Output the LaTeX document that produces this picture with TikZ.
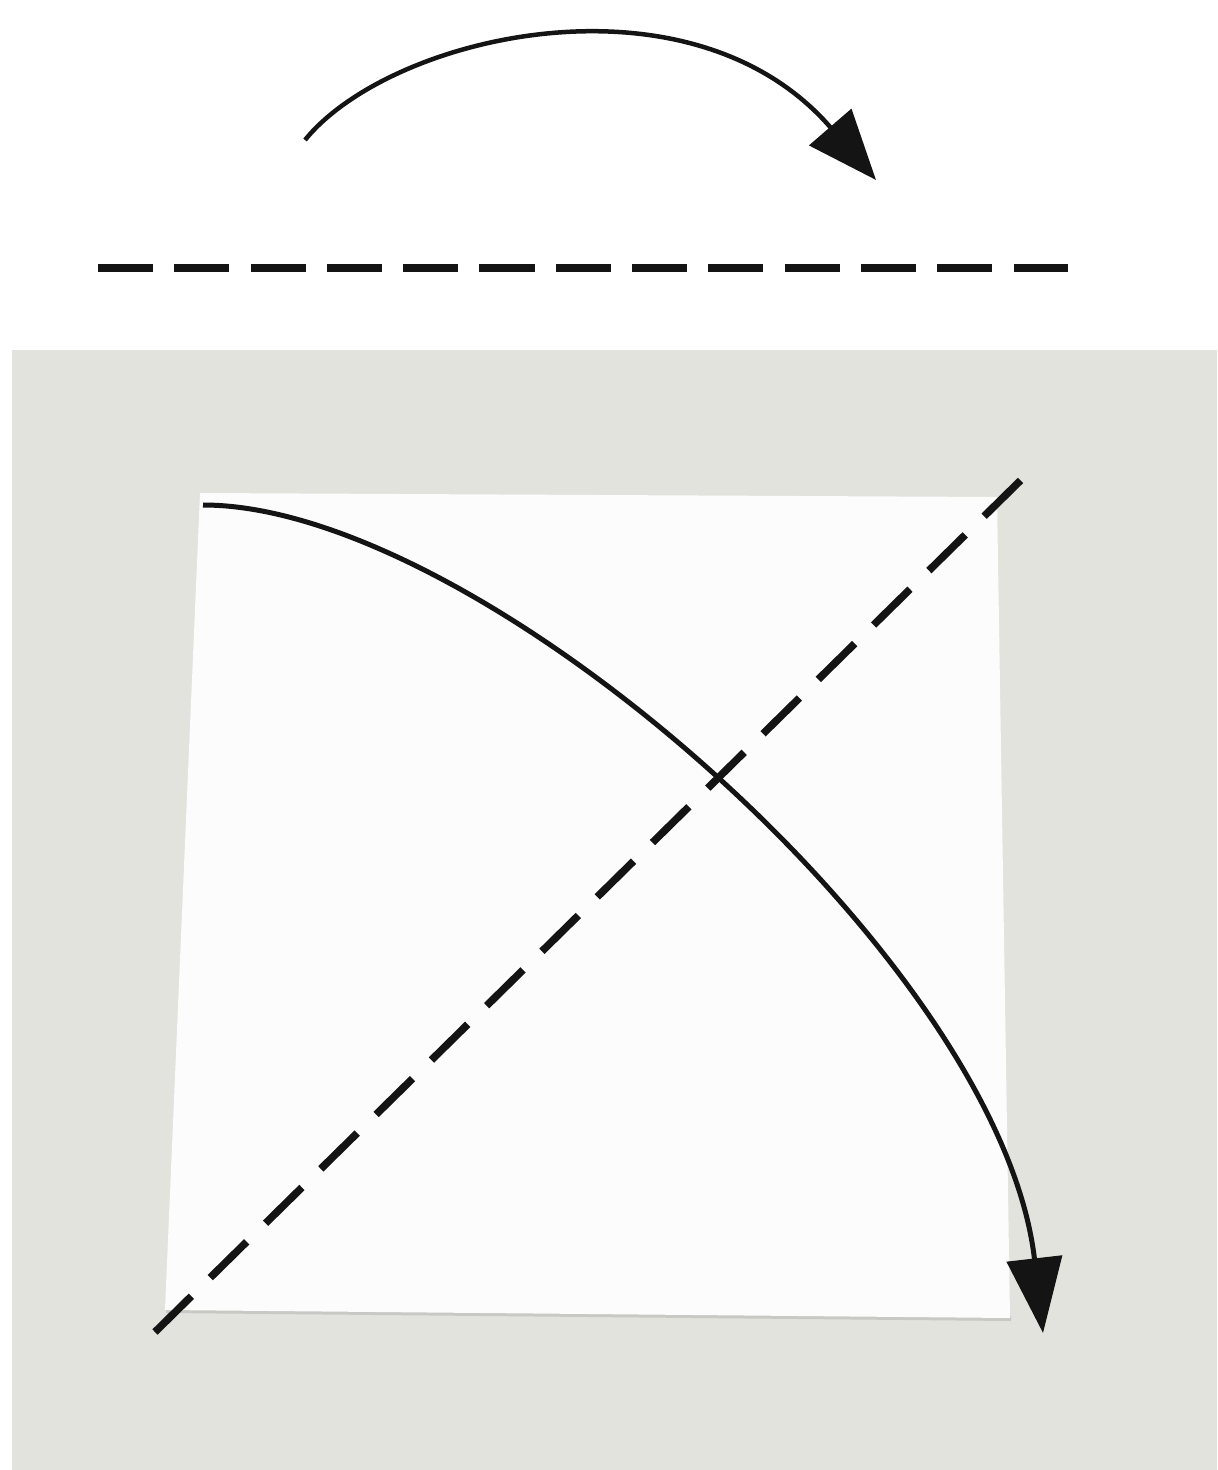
\documentclass[tikz,border=0pt]{standalone}
\usetikzlibrary{arrows.meta}
\definecolor{tablegray}{RGB}{226,227,221}
\definecolor{paperwhite}{RGB}{252,252,252}
\definecolor{edgegray}{RGB}{200,200,196}
\definecolor{inkblack}{RGB}{20,20,20}
\tikzset{
  foldline/.style={draw=inkblack, line width=0.75mm},
  arrowline/.style={draw=inkblack, line width=0.5mm},
}
\begin{document}
\begin{tikzpicture}[x=0.01cm,y=-0.01cm]
\useasboundingbox (0,0) rectangle (1217,1470);
\fill[white] (0,0) rectangle (1217,1470);
% table background
\fill[tablegray] (12,350) rectangle (1217,1470);
% paper square with slight shadow
\fill[edgegray] (166,1313) -- (1011,1321) -- (1011,1316) -- (166,1308) -- cycle;
\fill[paperwhite] (200,493) -- (997,497) -- (1010,1318) -- (165,1310) -- cycle;
% named points
\coordinate (hl) at (98,268);
\coordinate (hr) at (1068,268);
\coordinate (ts) at (305,140);
\coordinate (tt) at (876,180);
\coordinate (dl) at (155,1332);
\coordinate (dr) at (1023,478);
\coordinate (cs) at (203,505);
\coordinate (ct) at (1043,1333);
% horizontal valley fold line
\draw[foldline, dash pattern=on 5.5mm off 2.125mm] (hl) -- (hr);
% top turn-over arrow
\draw[arrowline, line width=0.45mm, -{Triangle[length=7mm,width=5.5mm]}]
  (ts) .. controls (390,35) and (690,-35) .. (tt);
% diagonal fold line
\draw[foldline, dash pattern=on 5.1mm off 2.65mm] (dl) -- (dr);
% big fold arrow
\draw[arrowline, -{Triangle[length=7.5mm,width=5.5mm]}]
  (cs) .. controls (480,505) and (1000,960) .. (ct);
\end{tikzpicture}
\end{document}
